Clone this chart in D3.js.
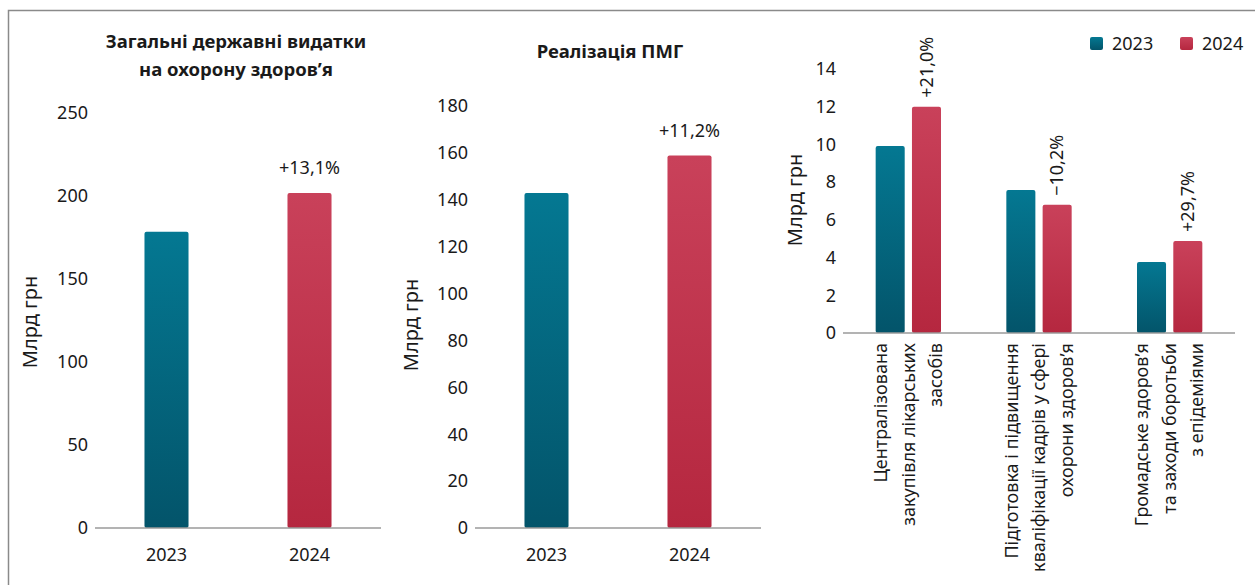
<!DOCTYPE html>
<html>
<head>
<meta charset="utf-8">
<script src="https://cdn.jsdelivr.net/npm/d3@7"></script>
<style>
  body { margin: 0; background: #fff; }
  text { font-family: "Noto Sans", "Open Sans", sans-serif; fill: #1a1a1a; }
</style>
</head>
<body>
<div id="chart"></div>
<script>
// дані
const years = ["2023", "2024"];
const totalSpend = [178.4, 201.8];
const totalChange = "+13,1%";
const pmgSpend = [142.9, 158.9];
const pmgChange = "+11,2%";

const programs = [
  ["Централізована", "закупівля лікарських", "засобів"],
  ["Підготовка і підвищення", "кваліфікації кадрів у сфері", "охорони здоров’я"],
  ["Громадське здоров’я", "та заходи боротьби", "з епідеміями"]
];
const prog2023 = [9.92, 7.58, 3.76];
const prog2024 = [12.0, 6.8, 4.88];
const progChange = ["+21,0%", "−10,2%", "+29,7%"];

const totalTicks = [0, 50, 100, 150, 200, 250];
const pmgTicks = [0, 20, 40, 60, 80, 100, 120, 140, 160, 180];
const progTicks = [0, 2, 4, 6, 8, 10, 12, 14];

//==============================================================================

const width = 1255, height = 585;
const fs = 18; // основний розмір шрифту
const svg = d3.select("#chart").append("svg")
  .attr("width", width)
  .attr("height", height);

const defs = svg.append("defs");
function grad(id, top, bottom) {
  const g = defs.append("linearGradient").attr("id", id)
    .attr("x1", 0).attr("y1", 0).attr("x2", 0).attr("y2", 1);
  g.append("stop").attr("offset", "0%").attr("stop-color", top);
  g.append("stop").attr("offset", "100%").attr("stop-color", bottom);
}
grad("g2023", "#047892", "#03546a");
grad("g2024", "#c9415a", "#b5273f");
const fills = { "2023": "url(#g2023)", "2024": "url(#g2024)" };

// рамка
svg.append("path")
  .attr("d", `M8.5,${height} V10.5 H${width}`)
  .attr("fill", "none")
  .attr("stroke", "#8a8a8a")
  .attr("stroke-width", 1.5);

function yAxis(y, ticks, xAxis) {
  svg.append("g").selectAll("text").data(ticks).join("text")
    .attr("x", xAxis - 7)
    .attr("y", d => y(d))
    .attr("dy", "0.35em")
    .attr("text-anchor", "end")
    .attr("font-size", fs)
    .text(d => d);
}

function yLabel(x, yc) {
  svg.append("text")
    .attr("transform", `translate(${x},${yc}) rotate(-90)`)
    .attr("text-anchor", "middle")
    .attr("dy", "0.35em")
    .attr("font-size", 20)
    .text("Млрд грн");
}

function title(lines, cx, y0) {
  svg.append("text")
    .attr("text-anchor", "middle")
    .attr("font-size", 18.5)
    .attr("font-weight", "bold")
    .selectAll("tspan").data(lines).join("tspan")
      .attr("x", cx)
      .attr("y", (d, i) => y0 + i * 28)
      .text(d => d);
}

// простий стовпчиковий графік для двох років
function simplePanel(values, ticks, change, { x0, x1, yTop, yMax }) {
  const base = 528;
  const y = d3.scaleLinear().domain([0, yMax]).range([base, yTop]);
  const x = d3.scaleBand().domain(years).range([x0, x1])
    .paddingInner(0.692).paddingOuter(0.346);

  yAxis(y, ticks, x0);

  svg.append("g").selectAll("rect").data(years).join("rect")
    .attr("x", d => x(d))
    .attr("y", (d, i) => y(values[i]))
    .attr("width", x.bandwidth())
    .attr("height", (d, i) => base - y(values[i]))
    .attr("rx", 2)
    .attr("fill", d => fills[d]);

  svg.append("line")
    .attr("x1", x0).attr("x2", x1)
    .attr("y1", base).attr("y2", base)
    .attr("stroke", "#9a9a9a").attr("stroke-width", 1.5);

  svg.append("g").selectAll("text").data(years).join("text")
    .attr("x", d => x(d) + x.bandwidth() / 2)
    .attr("y", base + 27)
    .attr("dy", "0.35em")
    .attr("text-anchor", "middle")
    .attr("font-size", fs)
    .text(d => d);

  svg.append("text")
    .attr("x", x("2024") + x.bandwidth() / 2)
    .attr("y", y(values[1]) - 25)
    .attr("dy", "0.35em")
    .attr("text-anchor", "middle")
    .attr("font-size", fs)
    .text(change);
}

title(["Загальні державні видатки", "на охорону здоров’я"], 236, 48);
yLabel(30, 322);
simplePanel(totalSpend, totalTicks, totalChange, { x0: 95, x1: 381, yTop: 113, yMax: 250 });

title(["Реалізація ПМГ"], 610, 58);
yLabel(411, 325);
simplePanel(pmgSpend, pmgTicks, pmgChange, { x0: 475, x1: 761, yTop: 106, yMax: 180 });

//==============================================================================
// згрупований графік програм

const base3 = 333;
const y3 = d3.scaleLinear().domain([0, 14]).range([base3, 69]);
const xg = d3.scaleBand().domain(d3.range(programs.length)).range([843, 1235])
  .paddingInner(0.5).paddingOuter(0.25);
const xs = d3.scaleBand().domain(years).range([0, xg.bandwidth()]).paddingInner(0.2);

yAxis(y3, progTicks, 843);
yLabel(795, 200);

const groups = svg.append("g").selectAll("g").data(programs).join("g")
  .attr("transform", (d, i) => `translate(${xg(i)},0)`);

groups.selectAll("rect")
  .data((d, i) => [{ year: "2023", v: prog2023[i] }, { year: "2024", v: prog2024[i] }])
  .join("rect")
    .attr("x", d => xs(d.year))
    .attr("y", d => y3(d.v))
    .attr("width", xs.bandwidth())
    .attr("height", d => base3 - y3(d.v))
    .attr("rx", 2)
    .attr("fill", d => fills[d.year]);

groups.append("text")
  .attr("transform", (d, i) =>
    `translate(${xs("2024") + xs.bandwidth() / 2},${y3(prog2024[i]) - 9}) rotate(-90)`)
  .attr("dy", "0.35em")
  .attr("font-size", fs)
  .text((d, i) => progChange[i]);

groups.selectAll("text.cat").data(d => d).join("text")
  .attr("class", "cat")
  .attr("transform", (d, j) =>
    `translate(${xg.bandwidth() / 2 + (j - 1) * 27.5},${base3 + 10}) rotate(-90)`)
  .attr("dy", "0.35em")
  .attr("text-anchor", "end")
  .attr("font-size", fs)
  .text(d => d);

svg.append("line")
  .attr("x1", 843).attr("x2", 1235)
  .attr("y1", base3).attr("y2", base3)
  .attr("stroke", "#9a9a9a").attr("stroke-width", 1.5);

// легенда
const legend = svg.append("g").selectAll("g").data(years).join("g")
  .attr("transform", (d, i) => `translate(${1090 + i * 90},37)`);
legend.append("rect")
  .attr("width", 13).attr("height", 13).attr("rx", 2)
  .attr("fill", d => fills[d]);
legend.append("text")
  .attr("x", 22).attr("y", 7)
  .attr("dy", "0.35em")
  .attr("font-size", fs)
  .text(d => d);
</script>
</body>
</html>
